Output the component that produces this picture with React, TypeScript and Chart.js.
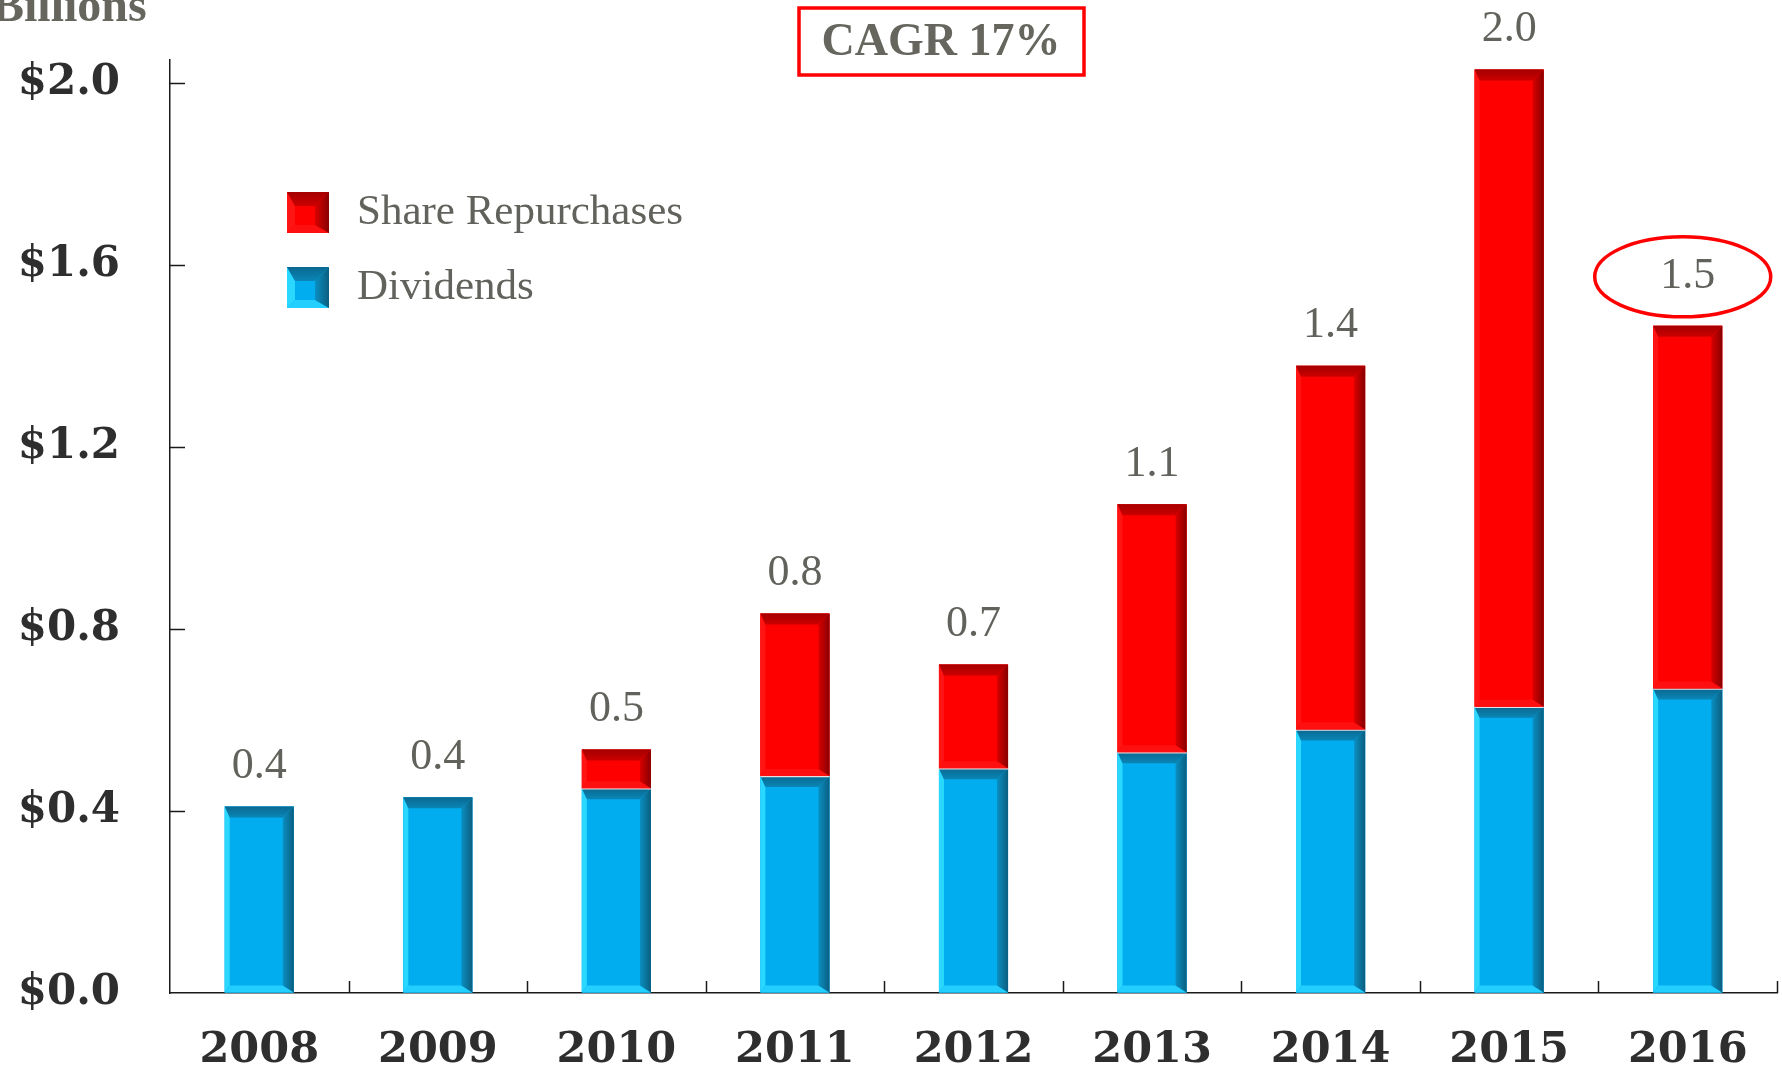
import React, { useEffect, useRef } from "react";
import { Chart, registerables } from "chart.js";

Chart.register(...registerables);

// ---- data ----
const years = ["2008", "2009", "2010", "2011", "2012", "2013", "2014", "2015", "2016"];
const dividends = [0.41, 0.43, 0.45, 0.477, 0.494, 0.529, 0.579, 0.629, 0.669];
const repurchases = [0, 0, 0.085, 0.357, 0.228, 0.545, 0.799, 1.4, 0.797];
const totalLabels = ["0.4", "0.4", "0.5", "0.8", "0.7", "1.1", "1.4", "2.0", "1.5"];
const yTicks = [0, 0.4, 0.8, 1.2, 1.6, 2.0];
const yMax = 2.05;
const seriesNames = ["Dividends", "Share Repurchases"];
const cagrText = "CAGR 17%";
const unitText = "Billions";
const highlightIndex = 8;

const SERIF = "'Liberation Serif', 'DejaVu Serif', serif";
const TICK_FONT = "'DejaVu Serif', serif";
const GREY = "#62625d";

type Bevel = {
  face: string;
  topOuter: string;
  topInner: string;
  rightOuter: string;
  rightInner: string;
  left: string;
  bottom: string;
};

const blueBevel: Bevel = {
  face: "#01adef",
  topOuter: "#0a6890",
  topInner: "#0a86b6",
  rightOuter: "#0b5e7f",
  rightInner: "#0a8fc2",
  left: "#2ad8ff",
  bottom: "#22cfff",
};
const redBevel: Bevel = {
  face: "#ff0000",
  topOuter: "#a40000",
  topInner: "#cc0000",
  rightOuter: "#880000",
  rightInner: "#d80000",
  left: "#ff1414",
  bottom: "#ff1010",
};

function poly(ctx: CanvasRenderingContext2D, pts: number[][], fill: string | CanvasGradient) {
  ctx.beginPath();
  ctx.moveTo(pts[0][0], pts[0][1]);
  for (let i = 1; i < pts.length; i++) ctx.lineTo(pts[i][0], pts[i][1]);
  ctx.closePath();
  ctx.fillStyle = fill;
  ctx.fill();
}

function drawBevel(
  ctx: CanvasRenderingContext2D,
  x0: number,
  y0: number,
  x1: number,
  y1: number,
  c: Bevel,
  s: { t: number; r: number; l: number; b: number }
) {
  const h = y1 - y0;
  let { t, r, l, b } = s;
  if (t + b > h * 0.8) {
    const k = (h * 0.8) / (t + b);
    t *= k;
    b *= k;
  }
  poly(ctx, [[x0, y0], [x1, y0], [x1, y1], [x0, y1]], c.face);
  poly(ctx, [[x0, y0], [x0 + l, y0 + t], [x0 + l, y1 - b], [x0, y1]], c.left);
  poly(ctx, [[x0, y1], [x0 + l, y1 - b], [x1 - r, y1 - b], [x1, y1]], c.bottom);
  const gr = ctx.createLinearGradient(x1 - r, 0, x1, 0);
  gr.addColorStop(0, c.rightInner);
  gr.addColorStop(1, c.rightOuter);
  poly(ctx, [[x1, y0], [x1, y1], [x1 - r, y1 - b], [x1 - r, y0 + t]], gr);
  const gt = ctx.createLinearGradient(0, y0, 0, y0 + t);
  gt.addColorStop(0, c.topOuter);
  gt.addColorStop(1, c.topInner);
  poly(ctx, [[x0, y0], [x1, y0], [x1 - r, y0 + t], [x0 + l, y0 + t]], gt);
}

const overlayPlugin = {
  id: "overlay",
  afterDatasetsDraw(chart: any) {
    const ctx: CanvasRenderingContext2D = chart.ctx;
    ctx.save();
    const bevels = [blueBevel, redBevel];
    chart.data.datasets.forEach((_ds: any, di: number) => {
      const meta = chart.getDatasetMeta(di);
      meta.data.forEach((el: any, i: number) => {
        const { x, y, base, width } = el.getProps(["x", "y", "base", "width"], true);
        const top = Math.min(y, base);
        const bot = Math.max(y, base);
        if (bot - top < 1) return;
        drawBevel(ctx, x - width / 2, top, x + width / 2, bot, bevels[di], { t: 11, r: 11, l: 5, b: 7 });
        if (di === 0 && repurchases[i] > 0) {
          ctx.strokeStyle = "rgba(255,235,235,0.9)";
          ctx.lineWidth = 1.5;
          ctx.beginPath();
          ctx.moveTo(x - width / 2, top + 0.5);
          ctx.lineTo(x + width / 2, top + 0.5);
          ctx.stroke();
        }
      });
    });

    // total labels
    const yScale = chart.scales.y;
    ctx.font = `44px ${SERIF}`;
    ctx.fillStyle = GREY;
    ctx.textAlign = "center";
    ctx.textBaseline = "middle";
    const barMeta = chart.getDatasetMeta(0);
    years.forEach((_yr, i) => {
      const total = dividends[i] + repurchases[i];
      const px = barMeta.data[i].x;
      const extra = i === highlightIndex ? 9 : 0;
      const py = yScale.getPixelForValue(total) - 40 - extra;
      ctx.fillText(totalLabels[i], px, py);
      if (i === highlightIndex) {
        ctx.strokeStyle = "#ff0000";
        ctx.lineWidth = 3.5;
        ctx.beginPath();
        ctx.ellipse(px - 5, py, 88, 40, 0, 0, Math.PI * 2);
        ctx.stroke();
      }
    });
    ctx.restore();
  },
  afterDraw(chart: any) {
    const ctx: CanvasRenderingContext2D = chart.ctx;
    const { left, top, bottom } = chart.chartArea;
    const xScale = chart.scales.x;
    const yScale = chart.scales.y;
    ctx.save();
    // inward ticks
    ctx.strokeStyle = "#1a1a1a";
    ctx.lineWidth = 1.5;
    ctx.beginPath();
    yTicks.forEach((v) => {
      if (v === 0) return;
      const py = Math.round(yScale.getPixelForValue(v)) + 0.5;
      ctx.moveTo(left, py);
      ctx.lineTo(left + 15, py);
    });
    years.forEach((_y, i) => {
      const px = Math.round(xScale.getPixelForValue(i + 0.5)) + 0.5;
      ctx.moveTo(px, bottom);
      ctx.lineTo(px, bottom - 12);
    });
    ctx.stroke();

    // legend (Share Repurchases above Dividends)
    const lx = left + 117;
    const ly = top + 132;
    const rows = [
      { name: seriesNames[1], bev: redBevel },
      { name: seriesNames[0], bev: blueBevel },
    ];
    ctx.font = `43px ${SERIF}`;
    ctx.textAlign = "left";
    ctx.textBaseline = "middle";
    rows.forEach((row, k) => {
      const by = ly + k * 75;
      drawBevel(ctx, lx, by, lx + 42, by + 41, row.bev, { t: 14, r: 14, l: 8, b: 8 });
      ctx.fillStyle = GREY;
      ctx.fillText(row.name, lx + 70, by + 21);
    });

    // Billions
    ctx.font = `bold 48px ${SERIF}`;
    ctx.fillStyle = "#66665f";
    ctx.textBaseline = "alphabetic";
    ctx.fillText(unitText, -8, 21);

    // CAGR box
    ctx.strokeStyle = "#ff0000";
    ctx.lineWidth = 3.5;
    ctx.strokeRect(799, 8, 285, 67);
    ctx.font = `bold 46px ${SERIF}`;
    ctx.fillStyle = "#66665f";
    ctx.textAlign = "center";
    ctx.textBaseline = "middle";
    ctx.fillText(cagrText, 941, 43);
    ctx.restore();
  },
};

export default function App() {
  const ref = useRef<HTMLCanvasElement | null>(null);
  useEffect(() => {
    if (!ref.current) return;
    const chart = new Chart(ref.current, {
      type: "bar",
      data: {
        labels: years,
        datasets: [
          {
            label: seriesNames[0],
            data: dividends,
            backgroundColor: blueBevel.face,
            borderWidth: 0,
            barPercentage: 0.387,
            categoryPercentage: 1,
          },
          {
            label: seriesNames[1],
            data: repurchases,
            backgroundColor: redBevel.face,
            borderWidth: 0,
            barPercentage: 0.387,
            categoryPercentage: 1,
          },
        ],
      },
      options: {
        animation: false,
        responsive: true,
        maintainAspectRatio: false,
        layout: { padding: { top: 60, right: 5, left: 0, bottom: 0 } },
        plugins: {
          legend: { display: false },
          tooltip: { enabled: false },
        },
        scales: {
          x: {
            stacked: true,
            grid: { display: true, drawOnChartArea: false, drawTicks: true, tickLength: 32, color: "rgba(0,0,0,0)" },
            border: { display: true, color: "#1a1a1a", width: 1.5 },
            ticks: {
              color: "#2e2e2e",
              font: { family: TICK_FONT, size: 43, weight: "bold" },
              padding: 0,
              maxRotation: 0,
            },
            afterFit: (s: any) => {
              s.height = 79;
            },
          },
          y: {
            stacked: true,
            min: 0,
            max: yMax,
            grid: { display: true, drawOnChartArea: false, drawTicks: true, tickLength: 50, color: "rgba(0,0,0,0)" },
            border: { display: true, color: "#1a1a1a", width: 1.5 },
            afterBuildTicks: (s: any) => {
              s.ticks = yTicks.map((v) => ({ value: v }));
            },
            ticks: {
              color: "#2e2e2e",
              font: { family: TICK_FONT, size: 42, weight: "bold" },
              padding: 0,
              callback: (v: any) => "$" + Number(v).toFixed(1),
            },
            afterFit: (s: any) => {
              s.width = 170;
            },
          },
        },
      },
      plugins: [overlayPlugin],
    });
    return () => chart.destroy();
  }, []);
  return (
    <div style={{ position: "absolute", left: 0, top: 0, width: 1782, height: 1072, background: "#fff" }}>
      <canvas ref={ref} />
    </div>
  );
}
